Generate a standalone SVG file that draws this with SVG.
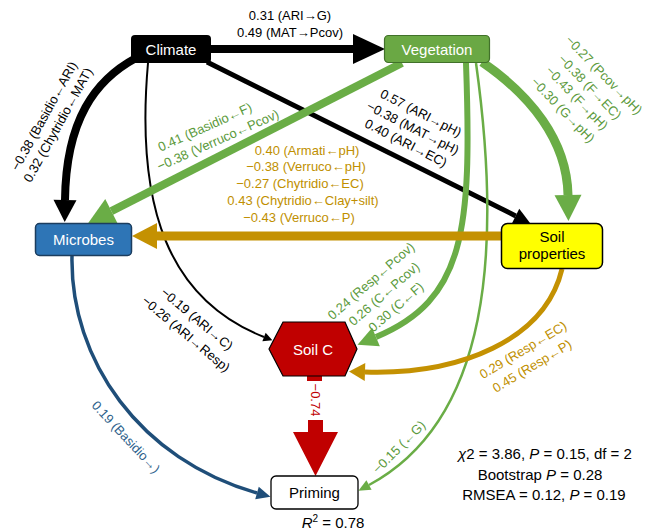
<svg xmlns="http://www.w3.org/2000/svg" width="658" height="531" viewBox="0 0 658 531">
<style>
text{font-family:"Liberation Sans",Arial,sans-serif}
.nl{font-size:15px;text-anchor:middle}
.el{font-size:13px;text-anchor:middle}
.st{font-size:15px;text-anchor:middle;fill:#000}
.blk{fill:#000}.grn{fill:#5b9a3c}.gld{fill:#c08f00}.blu{fill:#2d5f8b}.red{fill:#c00000}
.c{fill:none;stroke-linecap:butt}
.cb{stroke:#000}.cg{stroke:#6aad46}.cy{stroke:#c49102}.cu{stroke:#1f4e79}
</style>
<defs>
<marker id="mBlkL" markerUnits="userSpaceOnUse" orient="auto" refX="0" refY="0" markerWidth="40" markerHeight="40" overflow="visible"><path d="M0,-15 L32,0 L0,15 Z" fill="#000"/></marker>
<marker id="mBlkM" markerUnits="userSpaceOnUse" orient="auto" refX="0" refY="0" markerWidth="30" markerHeight="30" overflow="visible"><path d="M0,-11.5 L22,0 L0,11.5 Z" fill="#000"/></marker>
<marker id="mBlkS" markerUnits="userSpaceOnUse" orient="auto" refX="0" refY="0" markerWidth="20" markerHeight="20" overflow="visible"><path d="M0,-8 L16,0 L0,8 Z" fill="#000"/></marker>
<marker id="mBlkXS" markerUnits="userSpaceOnUse" orient="auto" refX="0" refY="0" markerWidth="12" markerHeight="12" overflow="visible"><path d="M0,-4.5 L9,0 L0,4.5 Z" fill="#000"/></marker>
<marker id="mGrnL" markerUnits="userSpaceOnUse" orient="auto" refX="0" refY="0" markerWidth="30" markerHeight="30" overflow="visible"><path d="M0,-13.5 L26,0 L0,13.5 Z" fill="#6aad46"/></marker>
<marker id="mGrnM" markerUnits="userSpaceOnUse" orient="auto" refX="0" refY="0" markerWidth="24" markerHeight="24" overflow="visible"><path d="M0,-10 L20,0 L0,10 Z" fill="#6aad46"/></marker>
<marker id="mGrnS" markerUnits="userSpaceOnUse" orient="auto" refX="0" refY="0" markerWidth="16" markerHeight="16" overflow="visible"><path d="M0,-5.5 L12,0 L0,5.5 Z" fill="#6aad46"/></marker>
<marker id="mGldL" markerUnits="userSpaceOnUse" orient="auto" refX="0" refY="0" markerWidth="30" markerHeight="30" overflow="visible"><path d="M0,-13 L25,0 L0,13 Z" fill="#c49102"/></marker>
<marker id="mGldM" markerUnits="userSpaceOnUse" orient="auto" refX="0" refY="0" markerWidth="20" markerHeight="20" overflow="visible"><path d="M0,-9 L16,0 L0,9 Z" fill="#c49102"/></marker>
<marker id="mBlu" markerUnits="userSpaceOnUse" orient="auto" refX="0" refY="0" markerWidth="18" markerHeight="18" overflow="visible"><path d="M0,-6.5 L14,0 L0,6.5 Z" fill="#1f4e79"/></marker>
</defs>

<g id="connectors">
<path class="c cb" d="M211,49 L353,49" stroke-width="8" marker-end="url(#mBlkL)"/>
<path class="c cb" d="M136,58 C95,80 66,120 65,200" stroke-width="8" marker-end="url(#mBlkM)"/>
<path class="c cb" d="M148,63 C135,210 170,300 264,337" stroke-width="2" marker-end="url(#mBlkXS)"/>
<path class="c cb" d="M207,62 L515.7,215.9" stroke-width="5" marker-end="url(#mBlkS)"/>
<path class="c cg" d="M402,63 L111.4,211.1" stroke-width="8" marker-end="url(#mGrnL)"/>
<path class="c cg" d="M482,62 C530,95 567,140 568,195" stroke-width="9" marker-end="url(#mGrnL)"/>
<path class="c cg" d="M466,63 C472,230 465,300 376,337" stroke-width="6" marker-end="url(#mGrnM)"/>
<path class="c cg" d="M476,63 C502,250 490,420 369,485" stroke-width="2.5" marker-end="url(#mGrnS)"/>
<path class="c cy" d="M501,236 L157,236" stroke-width="9" marker-end="url(#mGldL)"/>
<path class="c cy" d="M562,269 C545,340 460,375 365,372" stroke-width="5" marker-end="url(#mGldM)"/>
<path class="c cu" d="M72,256 C70,360 140,460 257,493" stroke-width="3.5" marker-end="url(#mBlu)"/>
<rect x="307" y="376" width="15" height="5" fill="#c00000"/>
<path d="M308,420 L323,420 L323,432 L338,432 L315.5,476 L293,432 L308,432 Z" fill="#c00000"/>

<text class="el blk" x="290" y="20">0.31 (ARI→G)</text>
<text class="el blk" x="290" y="37">0.49 (MAT→Pcov)</text>
<text class="el blk" transform="translate(44,116) rotate(-61)" y="4.5">−0.38 (Basidio←ARI)</text>
<text class="el blk" transform="translate(58,125) rotate(-61)" y="4.5">0.32 (Chytridio←MAT)</text>
<text class="el blk" transform="translate(421,113) rotate(27)" y="4.5">0.57 (ARI→pH)</text>
<text class="el blk" transform="translate(413,128) rotate(27)" y="4.5">−0.38 (MAT→pH)</text>
<text class="el blk" transform="translate(406,143) rotate(27)" y="4.5">0.40 (ARI→EC)</text>
<text class="el blk" transform="translate(197,319) rotate(40)" y="4.5">−0.19 (ARI→C)</text>
<text class="el blk" transform="translate(186,334) rotate(40)" y="4.5">−0.26 (ARI→Resp)</text>
<text class="el grn" transform="translate(205,127) rotate(-24)" y="4.5">0.41 (Basidio←F)</text>
<text class="el grn" transform="translate(218,140) rotate(-24)" y="4.5">−0.38 (Verruco←Pcov)</text>
<text class="el grn" transform="translate(604,75) rotate(46)" y="4.5">−0.27 (Pcov→pH)</text>
<text class="el grn" transform="translate(590,87) rotate(46)" y="4.5">−0.38 (F→EC)</text>
<text class="el grn" transform="translate(577,98) rotate(46)" y="4.5">−0.43 (F→pH)</text>
<text class="el grn" transform="translate(563,110) rotate(46)" y="4.5">−0.30 (G→pH)</text>
<text class="el grn" transform="translate(371,281) rotate(-41)" y="4.5">0.24 (Resp←Pcov)</text>
<text class="el grn" transform="translate(384,294) rotate(-41)" y="4.5">0.26 (C←Pcov)</text>
<text class="el grn" transform="translate(396,307) rotate(-41)" y="4.5">0.30 (C←F)</text>
<text class="el grn" transform="translate(399,447) rotate(-45)" y="4.5">−0.15 (←G)</text>
<text class="el gld" x="307" y="155">0.40 (Armati←pH)</text>
<text class="el gld" x="306" y="171">−0.38 (Verruco←pH)</text>
<text class="el gld" x="300" y="188">−0.27 (Chytridio←EC)</text>
<text class="el gld" x="303" y="205">0.43 (Chytridio←Clay+silt)</text>
<text class="el gld" x="299" y="222">−0.43 (Verruco←P)</text>
<text class="el gld" transform="translate(523,350) rotate(-31)" y="4.5">0.29 (Resp←EC)</text>
<text class="el gld" transform="translate(532,366) rotate(-31)" y="4.5">0.45 (Resp←P)</text>
<text class="el blu" transform="translate(126,437) rotate(47)" y="4.5">0.19 (Basidio→)</text>
<text class="el red" transform="translate(315,400) rotate(90)" y="4.5">−0.74</text>
</g>

<g id="climate">
<rect x="131" y="35" width="80" height="28" rx="4" fill="#000"/>
<text class="nl" x="171" y="54.5" fill="#fff">Climate</text>
</g>
<g id="vegetation">
<rect x="384.5" y="35.5" width="105" height="27" rx="4" fill="#6aa844" stroke="#41712a" stroke-width="1.2"/>
<text class="nl" x="437" y="54.5" fill="#fff">Vegetation</text>
</g>
<g id="microbes">
<rect x="35.5" y="223.5" width="96" height="32" rx="4" fill="#2e75b6" stroke="#1c3d5e" stroke-width="1.5"/>
<text class="nl" x="83.5" y="245" fill="#fff">Microbes</text>
</g>
<g id="soil-properties">
<rect x="501.5" y="223.5" width="101" height="45" rx="6" fill="#ffff00" stroke="#000" stroke-width="1.5"/>
<text class="nl" x="552" y="242" fill="#000">Soil</text>
<text class="nl" x="552" y="259" fill="#000">properties</text>
</g>
<g id="soil-c">
<polygon points="269,349 283,322 345,322 357,349 345,376 283,376" fill="#c00000" stroke="#000" stroke-width="1.2"/>
<text class="nl" x="313" y="355" fill="#fff">Soil C</text>
</g>
<g id="priming">
<rect x="271" y="476" width="87" height="33" rx="5" fill="#fff" stroke="#000" stroke-width="1.3"/>
<text class="nl" x="314.5" y="497.5" fill="#000">Priming</text>
<text class="nl" x="333" y="528" fill="#000"><tspan font-style="italic">R</tspan><tspan font-size="10" dy="-6">2</tspan><tspan dy="6"> = 0.78</tspan></text>
</g>
<g id="stats">
<text class="st" x="545" y="459"><tspan font-style="italic">χ</tspan>2 = 3.86, <tspan font-style="italic">P</tspan> = 0.15, df = 2</text>
<text class="st" x="540" y="479.5">Bootstrap <tspan font-style="italic">P</tspan> = 0.28</text>
<text class="st" x="544" y="500">RMSEA = 0.12, <tspan font-style="italic">P</tspan> = 0.19</text>
</g>
</svg>
